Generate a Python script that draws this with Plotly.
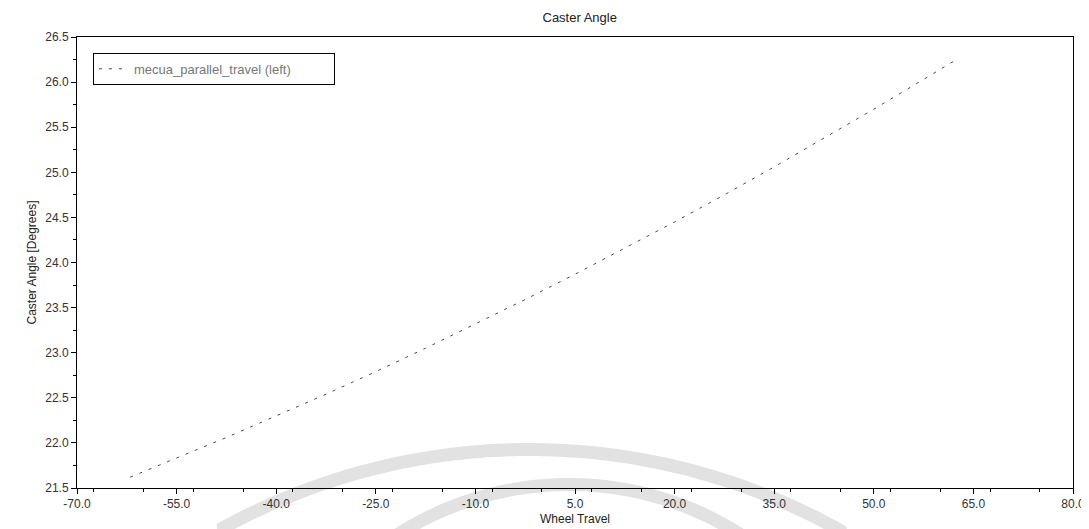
import numpy as np
import plotly.graph_objects as go

# Data
wheel_travel = [-62, -55, -47.5, -40, -32.5, -25, -17.5, -10, -2.5, 5,
                12.5, 20, 27.5, 35, 42.5, 50, 57.5, 62]
caster_angle = [21.62, 21.83, 22.06, 22.30, 22.54, 22.79, 23.05, 23.32, 23.59, 23.87,
                24.16, 24.45, 24.75, 25.06, 25.38, 25.70, 26.03, 26.23]
series_name = "mecua_parallel_travel (left)"
x_ticks = [-70, -55, -40, -25, -10, 5, 20, 35, 50, 65, 80]
y_ticks = [21.5, 22.0, 22.5, 23.0, 23.5, 24.0, 24.5, 25.0, 25.5, 26.0, 26.5]

FONT = "Liberation Sans, Arial, sans-serif"
W, H = 1089, 529
ML, MR, MT, MB = 69, 16, 29, 49
PW, PH = W - ML - MR, H - MT - MB


def to_paper(px, py):
    return (px - ML) / PW, (H - MB - py) / PH


def band_path(cx, cy, r, w, x0, x1):
    """Decorative watermark band (pixel geometry -> paper coordinates)."""
    xs = np.linspace(x0, x1, 80)
    outer = [(x, cy - np.sqrt(max(r ** 2 - (x - cx) ** 2, 0))) for x in xs]
    inner = [(x, cy - np.sqrt(max((r - w) ** 2 - (x - cx) ** 2, 0))) for x in xs[::-1]]
    pts = [to_paper(x, y) for x, y in outer + inner]
    return "M " + " L ".join(f"{a:.5f},{b:.5f}" for a, b in pts) + " Z"


fig = go.Figure()
fig.add_trace(go.Scatter(
    x=wheel_travel, y=caster_angle, mode="lines", name=series_name,
    line=dict(color="#4a4a4a", width=1, dash="3px,7px"),
    showlegend=True,
))

# faint watermark arcs behind the chart
shapes = [
    dict(type="path", xref="paper", yref="paper", layer="below",
         path=band_path(525, 1089, 654, 13, 210, 845),
         fillcolor="#e2e2e2", line=dict(width=0)),
    dict(type="path", xref="paper", yref="paper", layer="below",
         path=band_path(565, 800, 330, 13, 385, 750),
         fillcolor="#e2e2e2", line=dict(width=0)),
]

fig.update_layout(
    width=W, height=H,
    margin=dict(l=ML, r=MR, t=MT, b=MB),
    paper_bgcolor="white", plot_bgcolor="rgba(0,0,0,0)",
    font=dict(family=FONT, size=12, color="#222222"),
    title=dict(text="Caster Angle", x=0.525, xanchor="center", y=0.99, yanchor="top",
               font=dict(size=13, color="#222222")),
    showlegend=True,
    legend=dict(orientation="h", x=0.016, y=0.965, xanchor="left", yanchor="top",
                bordercolor="black", borderwidth=1, bgcolor="white",
                font=dict(size=13, color="#777777"), itemwidth=30,
                entrywidth=195, entrywidthmode="pixels"),
    shapes=shapes,
    xaxis=dict(
        range=[-70, 80], tickvals=x_ticks, ticktext=[f"{v:.1f}" for v in x_ticks],
        showgrid=False, zeroline=False, showline=True, linecolor="black", linewidth=1,
        mirror=True, ticks="outside", ticklen=5, tickcolor="black",
        minor=dict(dtick=7.5, ticks="outside", ticklen=3, tickcolor="black"),
        title=dict(text="Wheel Travel", standoff=4, font=dict(size=12)),
        tickfont=dict(size=12, color="#333333"),
    ),
    yaxis=dict(
        range=[21.5, 26.5], tickvals=y_ticks, ticktext=[f"{v:.1f}" for v in y_ticks],
        showgrid=False, zeroline=False, showline=True, linecolor="black", linewidth=1,
        mirror=True, ticks="outside", ticklen=5, tickcolor="black",
        minor=dict(dtick=0.25, ticks="outside", ticklen=3, tickcolor="black"),
        title=dict(text="Caster Angle [Degrees]", standoff=6, font=dict(size=12)),
        tickfont=dict(size=12, color="#333333"),
    ),
)

fig.write_html("out.html")
